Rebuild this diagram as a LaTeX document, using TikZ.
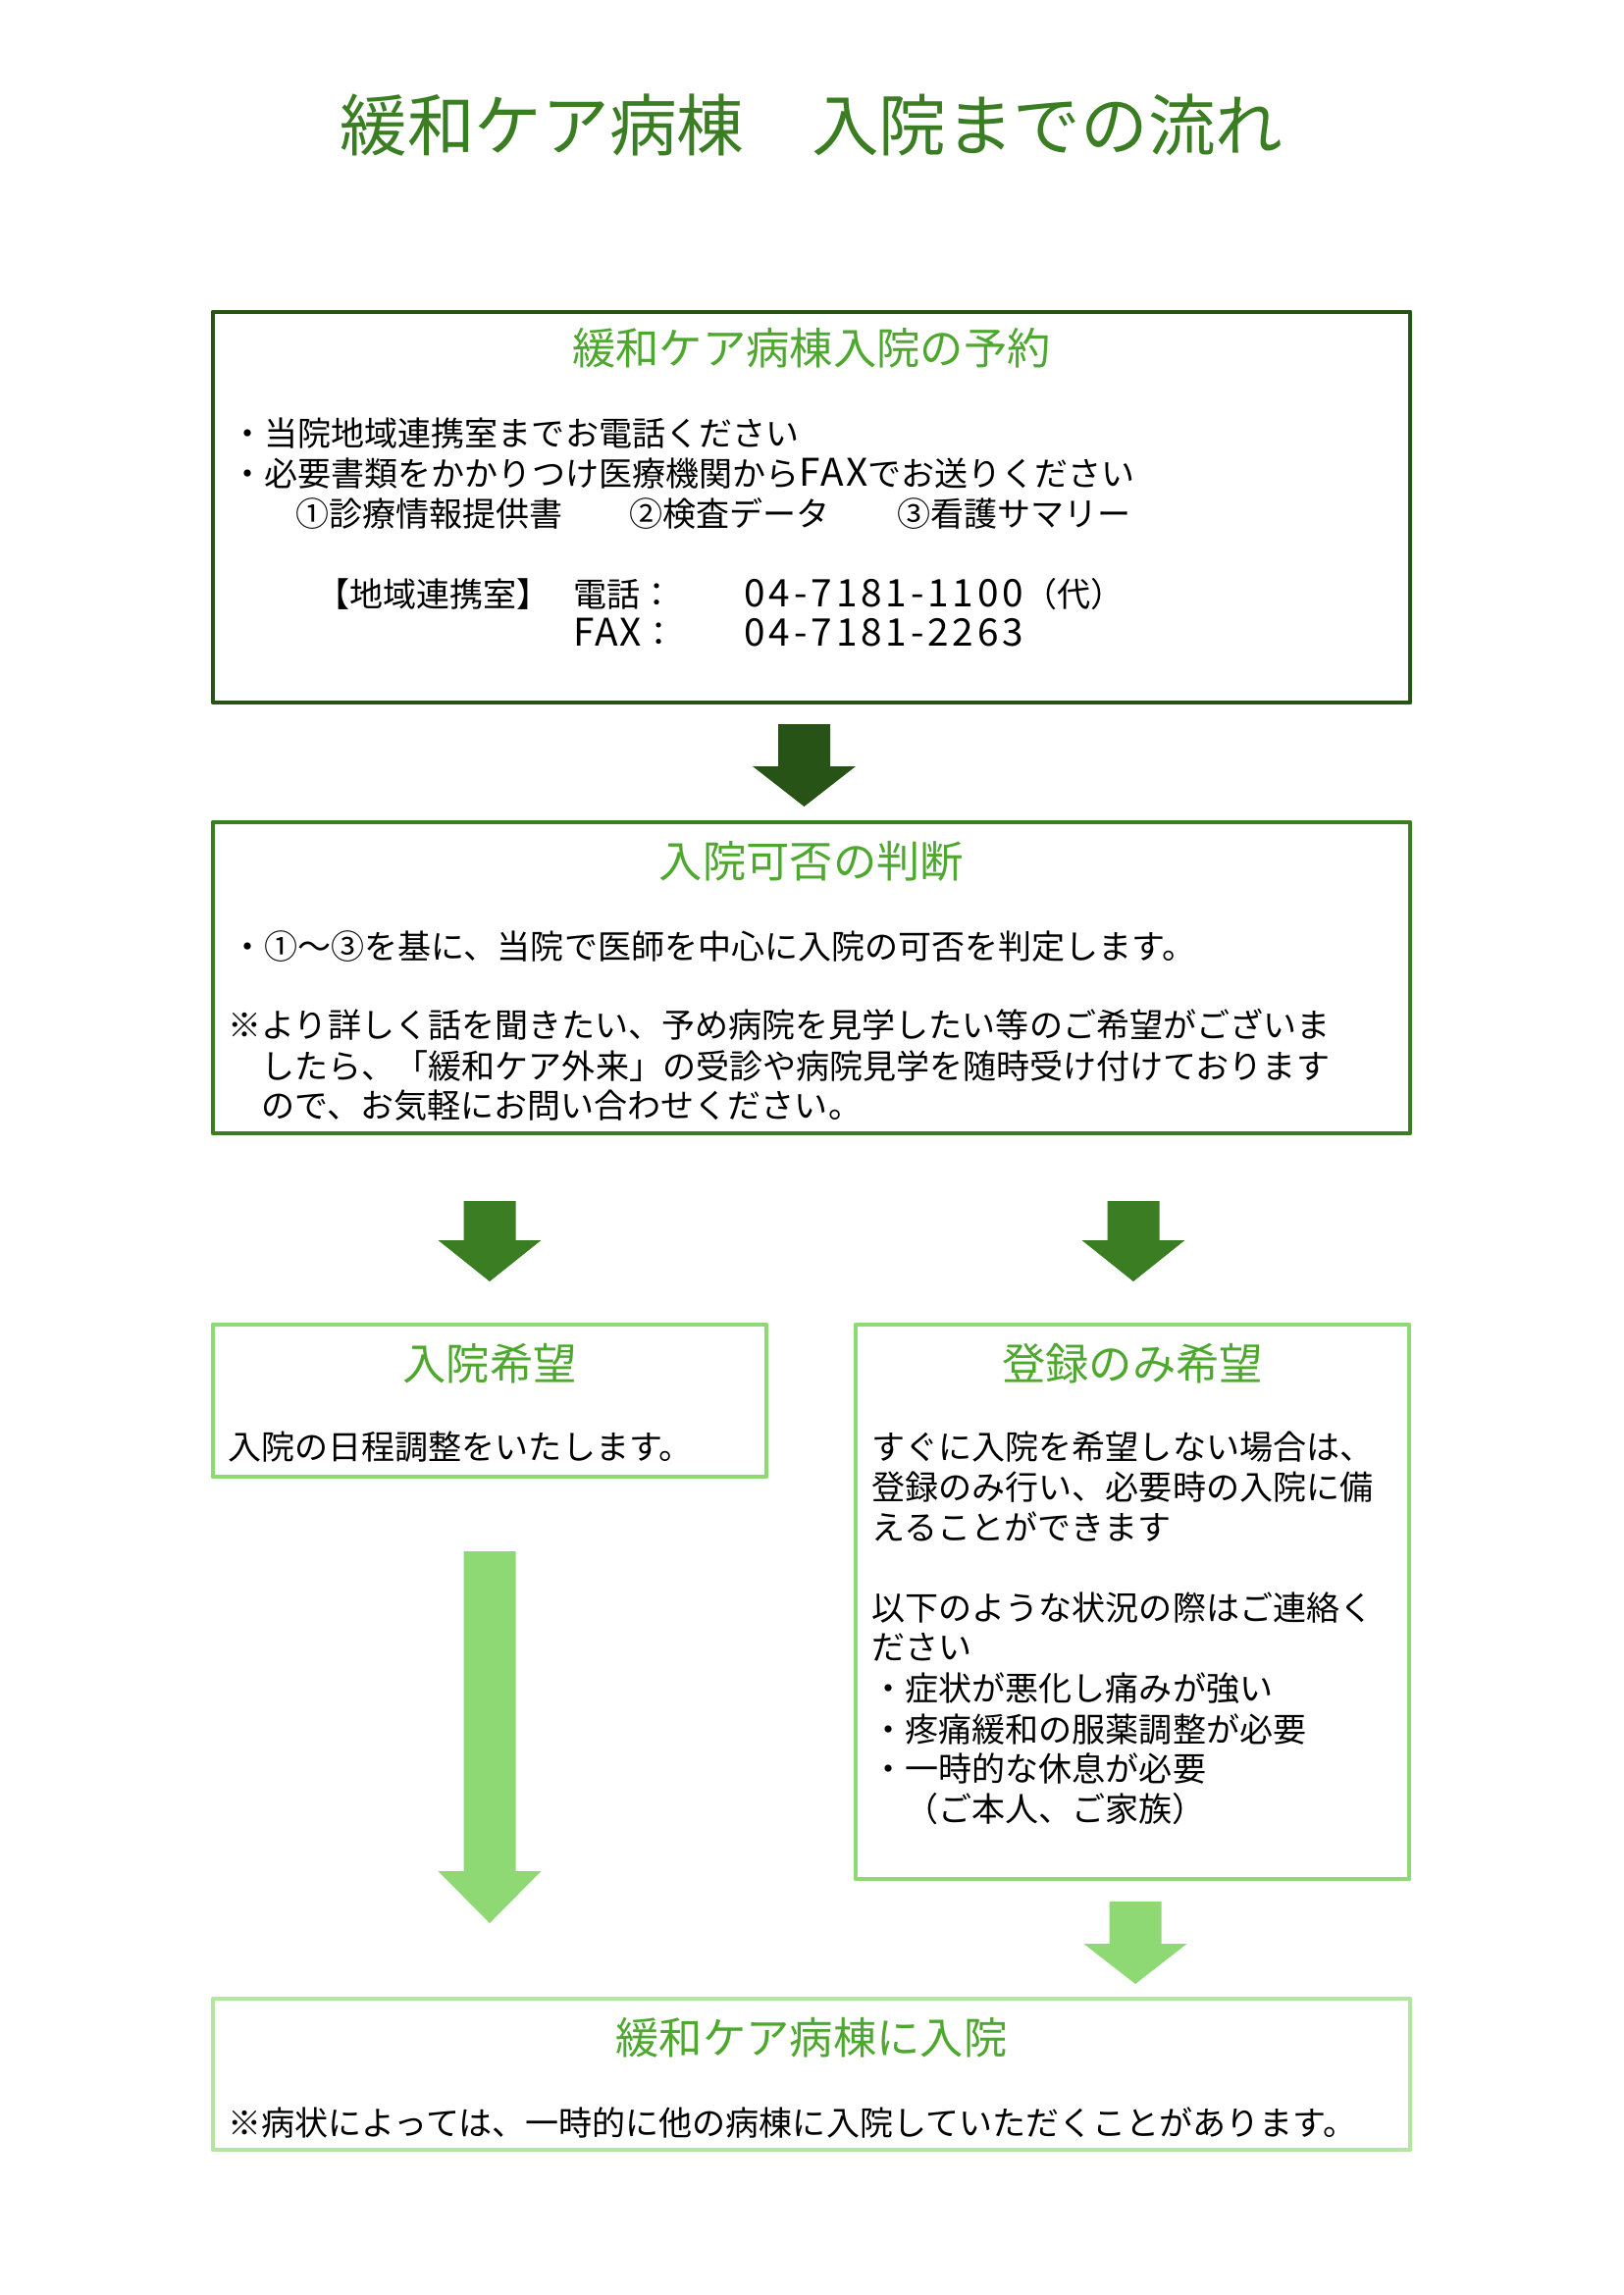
\documentclass[tikz,border=0pt]{standalone}
\usepackage{fontspec}
\setmainfont{Noto Sans CJK JP}
\definecolor{ttl}{HTML}{3B7D23}
\definecolor{hd}{HTML}{4EA72E}
\definecolor{dk}{HTML}{275317}
\definecolor{md}{HTML}{3A7D22}
\definecolor{lt}{HTML}{8ED973}
\definecolor{pl}{HTML}{B4E5A2}
\newcommand\lsp[2]{{\fontsize{14pt}{15pt}\selectfont\addfontfeature{LetterSpace=#1}#2}}
\newcommand\dnarrow[5]{% colour, centre x, top y, head start y, tip y
  \fill[#1] (#2-26.5,#3) -- (#2+26.5,#3) -- (#2+26.5,#4) -- (#2+52.5,#4) -- (#2,#5) -- (#2-52.5,#4) -- (#2-26.5,#4) -- cycle;}
\begin{document}
\begin{tikzpicture}[x=0.12697mm,y=-0.12697mm,
  boxn/.style={draw, line width=1.75pt, line join=round, inner sep=0pt, fill=none},
  ttltext/.style={anchor=base, inner sep=0pt, font=\fontsize{24.8pt}{30pt}\selectfont, text=ttl},
  hdtext/.style={anchor=base, inner sep=0pt, font=\fontsize{16pt}{19pt}\selectfont, text=hd},
  bodytext/.style={anchor=base west, inner sep=0pt, font=\fontsize{12.3pt}{15pt}\selectfont, text=black},
]
\useasboundingbox (0,0) rectangle (1654,2339);
\fill[white] (0,0) rectangle (1654,2339);

% title
\node[ttltext] (title) at (827,153) {緩和ケア病棟　入院までの流れ};

% boxes
\node[boxn, draw=dk, minimum width=1220*0.12697mm, minimum height=398*0.12697mm] (b1) at (827,517) {};
\node[boxn, draw=md, minimum width=1220*0.12697mm, minimum height=317*0.12697mm] (b2) at (827,996.5) {};
\node[boxn, draw=lt, minimum width=564*0.12697mm, minimum height=155*0.12697mm] (b3) at (499,1427.5) {};
\node[boxn, draw=lt, minimum width=564*0.12697mm, minimum height=565*0.12697mm] (b4) at (1154,1632.5) {};
\node[boxn, draw=pl, minimum width=1220*0.12697mm, minimum height=154*0.12697mm] (b5) at (827,2114) {};

% arrows
\dnarrow{dk}{819.5}{738}{781}{822}
\dnarrow{md}{499}{1224}{1264}{1306}
\dnarrow{md}{1155}{1224}{1264}{1306}
\dnarrow{lt}{499}{1581}{1907}{1960}
\dnarrow{lt}{1157}{1938}{1981}{2022}

% box 1
\node[hdtext] (h1) at (827,371) {緩和ケア病棟入院の予約};
\node[bodytext] (t11) at (235,454) {・当院地域連携室までお電話ください};
\node[bodytext] (t12) at (235,495) {・必要書類をかかりつけ医療機関から\lsp{5}{FAX}でお送りください};
\node[bodytext] (t13) at (301,536) {①診療情報提供書};
\node[bodytext] (t14) at (641,536) {②検査データ};
\node[bodytext] (t15) at (914,536) {③看護サマリー};
\node[bodytext] (t16) at (322,618) {【地域連携室】};
\node[bodytext] (t17) at (584,618) {電話：};
\node[bodytext] (t18) at (758,618) {\lsp{10}{04-7181-1100}（代）};
\node[bodytext] (t19) at (584,658) {\lsp{5}{FAX}：};
\node[bodytext] (t1a) at (758,658) {\lsp{10}{04-7181-2263}};

% box 2
\node[hdtext] (h2) at (827,894) {入院可否の判断};
\node[bodytext] (t21) at (235,977) {・①～③を基に、当院で医師を中心に入院の可否を判定します。};
\node[bodytext] (t22) at (232,1057) {※より詳しく話を聞きたい、予め病院を見学したい等のご希望がございま};
\node[bodytext] (t23) at (266,1099) {したら、「緩和ケア外来」の受診や病院見学を随時受け付けております};
\node[bodytext] (t24) at (266,1139) {ので、お気軽にお問い合わせください。};

% box 3
\node[hdtext] (h3) at (499,1406) {入院希望};
\node[bodytext] (t31) at (232,1487) {入院の日程調整をいたします。};

% box 4
\node[hdtext] (h4) at (1154,1406) {登録のみ希望};
\node[bodytext] (t41) at (888,1487) {すぐに入院を希望しない場合は、};
\node[bodytext] (t42) at (888,1528) {登録のみ行い、必要時の入院に備};
\node[bodytext] (t43) at (888,1569) {えることができます};
\node[bodytext] (t44) at (888,1651) {以下のような状況の際はご連絡く};
\node[bodytext] (t45) at (888,1691) {ださい};
\node[bodytext] (t46) at (888,1733) {・症状が悪化し痛みが強い};
\node[bodytext] (t47) at (888,1775) {・疼痛緩和の服薬調整が必要};
\node[bodytext] (t48) at (888,1815) {・一時的な休息が必要};
\node[bodytext] (t49) at (922,1856) {（ご本人、ご家族）};

% box 5
\node[hdtext] (h5) at (827,2093) {緩和ケア病棟に入院};
\node[bodytext] (t51) at (232,2176) {※病状によっては、一時的に他の病棟に入院していただくことがあります。};
\end{tikzpicture}
\end{document}
